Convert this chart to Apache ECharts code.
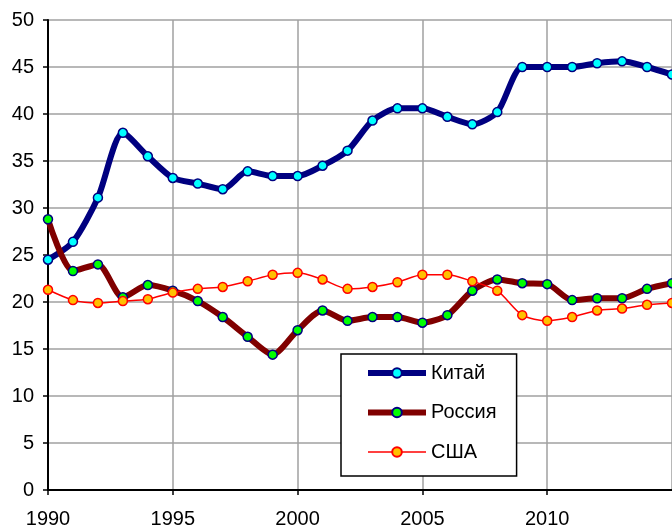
<!DOCTYPE html>
<html>
<head>
<meta charset="utf-8">
<script src="https://cdn.jsdelivr.net/npm/echarts@6/dist/echarts.min.js"></script>
<style>
html,body{margin:0;padding:0;background:#fff;}
#chart{width:672px;height:529px;}
</style>
</head>
<body>
<div id="chart"></div>
<script>
var years = [1990,1991,1992,1993,1994,1995,1996,1997,1998,1999,2000,2001,2002,2003,2004,2005,2006,2007,2008,2009,2010,2011,2012,2013,2014,2015];
var china  = [24.5,26.4,31.1,38.0,35.5,33.2,32.6,32.0,33.9,33.4,33.4,34.5,36.1,39.3,40.6,40.6,39.7,38.9,40.2,45.0,45.0,45.0,45.4,45.6,45.0,44.2];
var russia = [28.8,23.3,24.0,20.5,21.8,21.2,20.1,18.4,16.3,14.4,17.0,19.1,18.0,18.4,18.4,17.8,18.6,21.2,22.4,22.0,21.9,20.2,20.4,20.4,21.4,22.0];
var usa    = [21.3,20.2,19.9,20.1,20.3,21.0,21.4,21.6,22.2,22.9,23.1,22.4,21.4,21.6,22.1,22.9,22.9,22.2,21.2,18.6,18.0,18.4,19.1,19.3,19.7,19.9];
var seriesNames = ['Китай','Россия','США'];

function pairs(vals){ return years.map(function(y,i){ return [y, vals[i]]; }); }

var FONT = "'Liberation Sans', Arial, sans-serif";
var chart = echarts.init(document.getElementById('chart'), null, {renderer:'canvas'});
chart.setOption({
  animation: false,
  backgroundColor: '#ffffff',
  grid: { left: 48, top: 20, bottom: 35, right: -3, containLabel: false },
  xAxis: {
    type: 'value', min: 1990, max: 2015, interval: 5,
    axisLine: { show: true, onZero: false, lineStyle: { color: '#000', width: 2 } },
    axisTick: { show: true, length: 5, lineStyle: { color: '#000', width: 1.5 } },
    axisLabel: { color: '#000', fontSize: 20, fontFamily: FONT, margin: 19, showMaxLabel: false,
      formatter: function(v){ return String(v); } },
    splitLine: { show: true, lineStyle: { color: '#a0a0a0', width: 1.5 } }
  },
  yAxis: {
    type: 'value', min: 0, max: 50, interval: 5,
    axisLine: { show: true, lineStyle: { color: '#000', width: 2 } },
    axisTick: { show: true, length: 5, lineStyle: { color: '#000', width: 1.5 } },
    axisLabel: { color: '#000', fontSize: 20, fontFamily: FONT, margin: 14 },
    splitLine: { show: true, lineStyle: { color: '#a0a0a0', width: 1.5 } }
  },
  legend: {
    orient: 'vertical', left: 341, top: 354,
    data: seriesNames,
    itemWidth: 58, itemHeight: 12, itemGap: 19.5,
    padding: [9, 20, 14, 24],
    borderColor: '#000', borderWidth: 1.5,
    backgroundColor: '#fff',
    lineStyle: { width: 'inherit' },
    textStyle: { color: '#000', fontSize: 20, fontFamily: FONT }
  },
  series: [
    { name: seriesNames[0], type: 'line', data: pairs(china), smooth: 0.25,
      symbol: 'circle', symbolSize: 9,
      lineStyle: { color: '#000080', width: 6 },
      itemStyle: { color: '#00ffff', borderColor: '#000080', borderWidth: 1.5 } },
    { name: seriesNames[1], type: 'line', data: pairs(russia), smooth: 0.25,
      symbol: 'circle', symbolSize: 9,
      lineStyle: { color: '#800000', width: 6 },
      itemStyle: { color: '#00ff00', borderColor: '#000080', borderWidth: 1.5 } },
    { name: seriesNames[2], type: 'line', data: pairs(usa), smooth: 0.25,
      symbol: 'circle', symbolSize: 9,
      lineStyle: { color: '#ff0000', width: 1.5 },
      itemStyle: { color: '#ffc000', borderColor: '#ff0000', borderWidth: 1.5 } }
  ]
});
</script>
</body>
</html>
